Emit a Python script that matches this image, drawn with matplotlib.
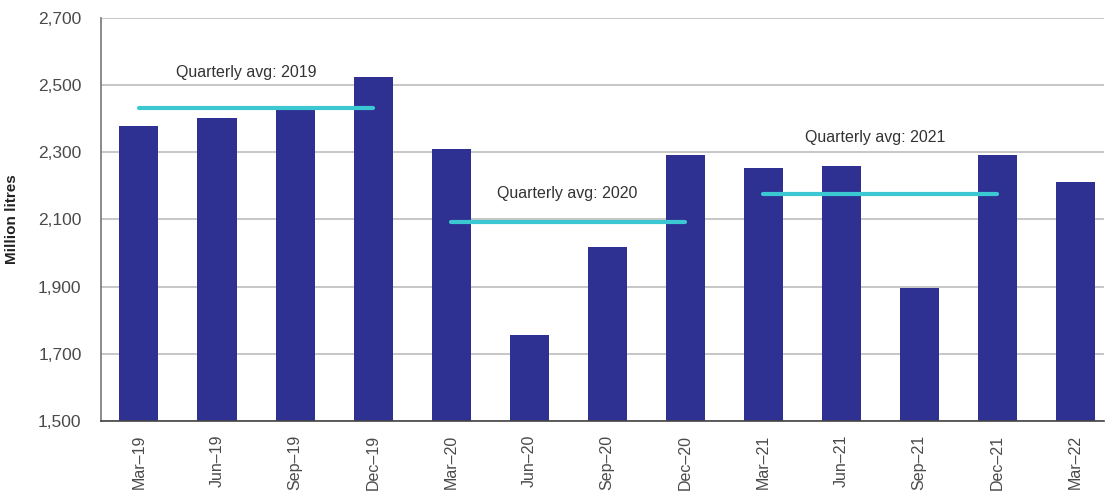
import matplotlib.pyplot as plt
import numpy as np

plt.rcParams['font.family'] = ['Liberation Sans', 'DejaVu Sans']

quarters = ['Mar–19', 'Jun–19', 'Sep–19', 'Dec–19', 'Mar–20', 'Jun–20', 'Sep–20',
            'Dec–20', 'Mar–21', 'Jun–21', 'Sep–21', 'Dec–21', 'Mar–22']
volumes = [2378, 2402, 2427, 2522, 2309, 1756, 2017, 2291, 2252, 2258, 1897, 2291, 2210]

# yearly averages: (label, first quarter index, last quarter index, value)
avg_labels = ['Quarterly avg: 2019', 'Quarterly avg: 2020', 'Quarterly avg: 2021']
avg_start = [0, 4, 8]
avg_end = [3, 7, 11]
avg_values = [2432, 2093, 2175]
avg_text_x = [1.38, 5.49, 9.44]
avg_text_y = [2535, 2177, 2342]

bar_color = '#2e3192'
avg_color = '#3cc8d2'

fig = plt.figure(figsize=(11.06, 4.93), dpi=100)
ax = fig.add_axes([0.0913, 0.146, 0.907, 0.8185])

x = np.arange(len(quarters))
ax.bar(x, volumes, width=0.5, color=bar_color, zorder=2)

for lab, s, e, v, tx, ty in zip(avg_labels, avg_start, avg_end, avg_values,
                                 avg_text_x, avg_text_y):
    ax.plot([s, e], [v, v], color=avg_color, lw=3, solid_capstyle='round', zorder=3)
    ax.text(tx, ty, lab, ha='center', va='center', fontsize=11.5, color='#333333')

ax.set_ylim(1500, 2700)
ax.set_xlim(-0.487, 12.37)
ax.set_yticks(np.arange(1500, 2701, 200))
ax.yaxis.set_major_formatter(plt.FuncFormatter(lambda v, p: f'{int(v):,}'))
ax.set_xticks(x)
ax.set_xticklabels(quarters, rotation=90)
ax.tick_params(axis='both', length=0, labelcolor='#4a4a4a')
ax.tick_params(axis='y', pad=14, labelsize=12.5)
ax.tick_params(axis='x', pad=10, labelsize=11.5)

ax.grid(axis='y', color='#bdbdbd', lw=1.2, zorder=0)
for side in ['top', 'right']:
    ax.spines[side].set_visible(False)
ax.spines['left'].set_color('#777777')
ax.spines['bottom'].set_color('#444444')
ax.spines['left'].set_linewidth(1.2)
ax.spines['bottom'].set_linewidth(1.2)

ax.set_ylabel('Million litres', fontsize=11, fontweight='bold', color='#222222', labelpad=14)

fig.savefig('out.png', dpi=100)
